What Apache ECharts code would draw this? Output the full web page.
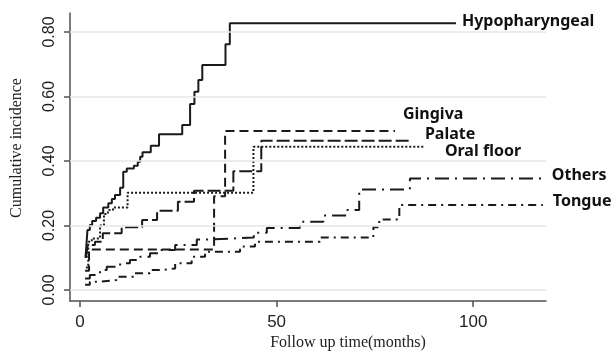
<!DOCTYPE html>
<html><head><meta charset="utf-8">
<script src="https://cdn.jsdelivr.net/npm/echarts@6/dist/echarts.min.js"></script>
<style>html,body{margin:0;padding:0;background:#fff}#c{width:614px;height:352px}</style>
</head><body><div id="c"></div>
<script>
const xTicks = [0, 50, 100];
const yTicks = [0, 0.2, 0.4, 0.6, 0.8];
const seriesNames = ['Hypopharyngeal', 'Gingiva', 'Palate', 'Oral floor', 'Others', 'Tongue'];

const hypoMonths = [1.4, 1.9, 2.5, 3.1, 4.1, 5.1, 5.9, 7.2, 8.1, 8.9, 10.2, 11.0, 11.9, 13.7, 14.7, 15.3, 15.9, 18.0, 20.1, 26.0, 28.0, 29.1, 30.1, 31.1, 37.0, 38.1, 95.6];
const hypoValues = [0.10, 0.186, 0.202, 0.214, 0.224, 0.238, 0.256, 0.269, 0.282, 0.295, 0.317, 0.367, 0.377, 0.385, 0.398, 0.413, 0.427, 0.447, 0.483, 0.512, 0.577, 0.615, 0.651, 0.698, 0.762, 0.827, 0.827];

const gingivaMonths = [1.3, 2.3, 34.1, 36.9, 80.1];
const gingivaValues = [0.06, 0.126, 0.291, 0.493, 0.493];

const palateMonths = [1.5, 2.0, 3.8, 5.8, 10.6, 15.8, 19.6, 24.9, 29.0, 39.0, 46.1, 83.9];
const palateValues = [0.10, 0.14, 0.15, 0.176, 0.195, 0.217, 0.246, 0.274, 0.308, 0.368, 0.463, 0.463];

const oralMonths = [1.5, 2.1, 3.0, 5.1, 6.1, 7.1, 8.4, 12.1, 44.1, 87.7];
const oralValues = [0.07, 0.15, 0.16, 0.20, 0.236, 0.248, 0.256, 0.302, 0.444, 0.444];

const othersMonths = [1.3, 2.5, 5.1, 6.8, 10.2, 12.7, 15.3, 17.8, 20.3, 24.2, 29.7, 33.8, 44.2, 47.5, 55.9, 61.9, 67.8, 71.0, 83.9, 117.7];
const othersValues = [0.036, 0.047, 0.062, 0.072, 0.083, 0.093, 0.103, 0.114, 0.124, 0.14, 0.157, 0.163, 0.178, 0.192, 0.212, 0.231, 0.248, 0.312, 0.346, 0.346];

const tongueMonths = [1.3, 2.5, 5.1, 9.3, 13.6, 17.8, 20.8, 24.2, 28.4, 31.8, 40.7, 44.5, 61.0, 74.6, 76.1, 81.2, 117.7];
const tongueValues = [0.016, 0.026, 0.031, 0.041, 0.052, 0.062, 0.067, 0.083, 0.103, 0.119, 0.135, 0.150, 0.163, 0.195, 0.219, 0.264, 0.264];

function pts(m, v) { return m.map((x, i) => [x, v[i]]); }

const curves = [
  { name: seriesNames[0], data: pts(hypoMonths, hypoValues), dash: 'solid', off: [6, -2] },
  { name: seriesNames[1], data: pts(gingivaMonths, gingivaValues), dash: [9, 5], off: [8, -17] },
  { name: seriesNames[2], data: pts(palateMonths, palateValues), dash: [13, 4], off: [15, -6] },
  { name: seriesNames[3], data: pts(oralMonths, oralValues), dash: [2, 2], off: [20, 5] },
  { name: seriesNames[4], data: pts(othersMonths, othersValues), dash: [14, 6, 2, 6], off: [9, -3] },
  { name: seriesNames[5], data: pts(tongueMonths, tongueValues), dash: [8, 5, 2, 5], off: [10, -3] }
];

const chart = echarts.init(document.getElementById('c'), null, { renderer: 'canvas' });

const series = [{
  type: 'line', data: [[0, 0]], showSymbol: false, symbol: 'none', silent: true, z: 1,
  lineStyle: { opacity: 0 },
  markLine: {
    silent: true, symbol: 'none', animation: false,
    label: { show: false },
    lineStyle: { color: '#e6e6e6', width: 1.5, type: 'solid' },
    data: yTicks.map(v => ({ yAxis: v }))
  }
}].concat(curves.map(c => ({
  name: c.name, type: 'line', step: 'end', data: c.data, symbol: 'none', showSymbol: false,
  silent: true, z: 3,
  lineStyle: { color: '#1a1a1a', width: 2, type: c.dash }
})));

chart.setOption({
  animation: false,
  backgroundColor: '#ffffff',
  grid: { left: 70, right: 68, top: 13, bottom: 51, containLabel: false },
  xAxis: {
    type: 'value', min: -2.54, max: 118.5,
    axisLine: { show: true, onZero: false, lineStyle: { color: '#505050', width: 1.5 } },
    axisTick: { show: true, length: 6, customValues: xTicks, lineStyle: { color: '#505050', width: 1.5 } },
    axisLabel: { customValues: xTicks, fontSize: 17, color: '#222', fontFamily: 'Liberation Sans', margin: 13 },
    splitLine: { show: false }
  },
  yAxis: {
    type: 'value', min: -0.034, max: 0.859,
    axisLine: { show: true, onZero: false, lineStyle: { color: '#505050', width: 1.5 } },
    axisTick: { show: true, length: 6, customValues: yTicks, lineStyle: { color: '#505050', width: 1.5 } },
    axisLabel: { customValues: yTicks, rotate: 90, fontSize: 16, color: '#222', fontFamily: 'Liberation Sans', margin: 12,
      formatter: v => v.toFixed(2) },
    splitLine: { show: false }
  },
  series: series
});

const graphics = curves.map(c => {
  const last = c.data[c.data.length - 1];
  const p = chart.convertToPixel({ gridIndex: 0 }, last);
  return {
    type: 'text', x: p[0] + c.off[0], y: p[1] + c.off[1], silent: true,
    style: { text: c.name, fill: '#111', font: 'bold 16px "Noto Sans"', textAlign: 'left', textVerticalAlign: 'middle' }
  };
});
graphics.push({
  type: 'text', x: 17, y: 148, rotation: Math.PI / 2, silent: true,
  style: { text: 'Cumulative incidence', fill: '#222', font: '16px "Liberation Serif"', textAlign: 'center', textVerticalAlign: 'middle' }
});
graphics.push({
  type: 'text', x: 348, y: 343, silent: true,
  style: { text: 'Follow up time(months)', fill: '#222', font: '16px "Liberation Serif"', textAlign: 'center', textVerticalAlign: 'middle' }
});
chart.setOption({ graphic: graphics });
</script>
</body></html>
